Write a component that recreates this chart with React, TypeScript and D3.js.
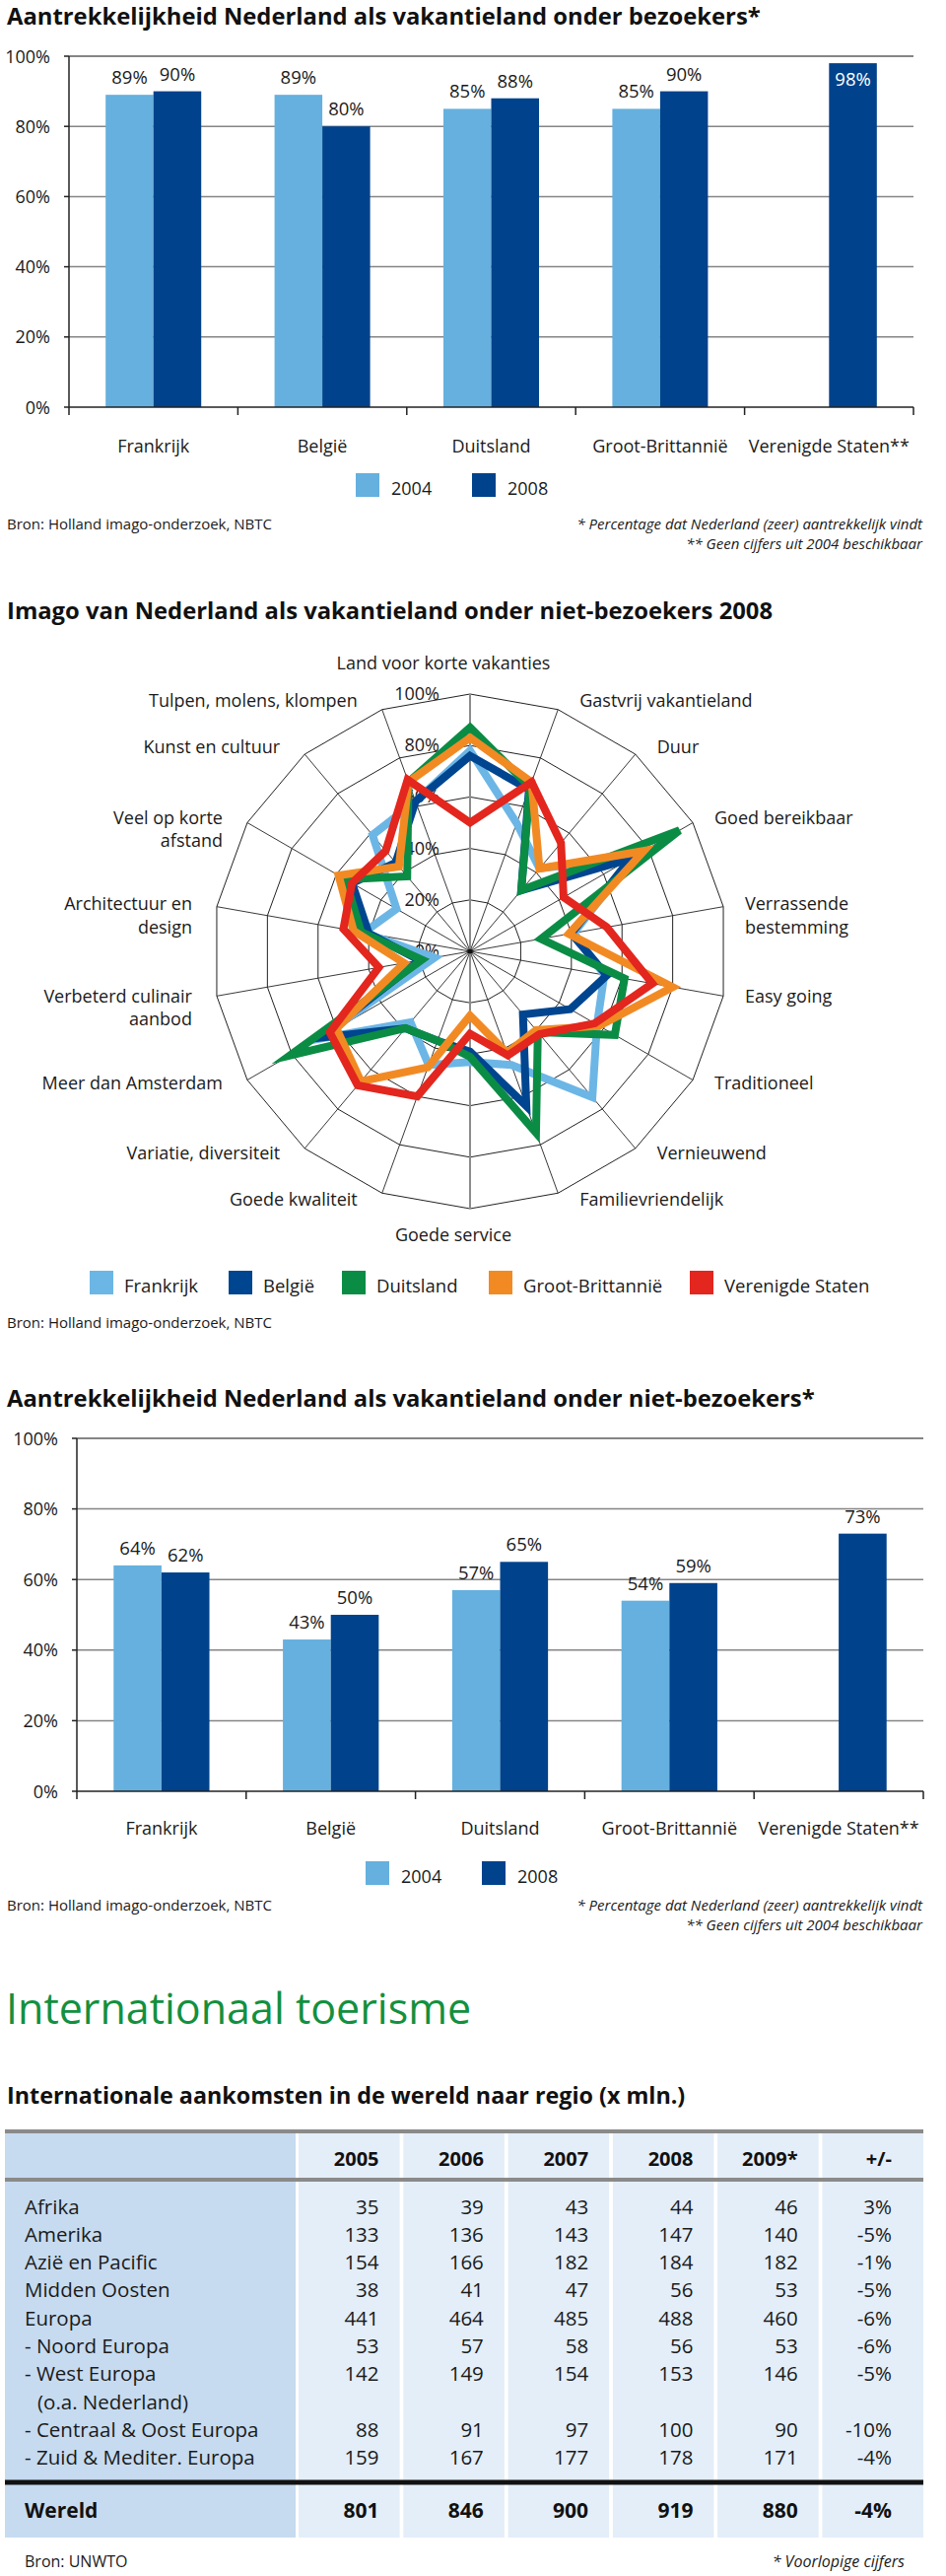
import React from 'react';
import * as d3 from 'd3';

if (typeof document !== 'undefined') {
  document.body.style.margin = '0';
}

const FONT = "'Open Sans', 'Noto Sans', sans-serif";
const TEXT = '#1a1a1a';
const LIGHT = '#65b0de';
const DARK = '#00428b';
const GRID = '#858585';

// ---------- bar charts ----------
const barCategories = ['Frankrijk', 'België', 'Duitsland', 'Groot-Brittannië', 'Verenigde Staten**'];
const barSeries = ['2004', '2008'];
const visitors2004: (number | null)[] = [89, 89, 85, 85, null];
const visitors2008: (number | null)[] = [90, 80, 88, 90, 98];
const nonVisitors2004: (number | null)[] = [64, 43, 57, 54, null];
const nonVisitors2008: (number | null)[] = [62, 50, 65, 59, 73];
const percentTicks = [0, 20, 40, 60, 80, 100];

// ---------- radar ----------
const radarAxes = [
  'Land voor korte vakanties',
  'Gastvrij vakantieland',
  'Duur',
  'Goed bereikbaar',
  'Verrassende\nbestemming',
  'Easy going',
  'Traditioneel',
  'Vernieuwend',
  'Familievriendelijk',
  'Goede service',
  'Goede kwaliteit',
  'Variatie, diversiteit',
  'Meer dan Amsterdam',
  'Verbeterd culinair\naanbod',
  'Architectuur en\ndesign',
  'Veel op korte\nafstand',
  'Kunst en cultuur',
  'Tulpen, molens, klompen',
];
const radarCountries = ['Frankrijk', 'België', 'Duitsland', 'Groot-Brittannië', 'Verenigde Staten'];
const radarColors = ['#6cb6e6', '#00458f', '#0b8c45', '#f28a24', '#e3261e'];
const radarFrankrijk = [78, 53, 42, 73, 41, 53, 57, 74, 47, 43, 47, 36, 68, 14, 42, 33, 59, 62];
const radarBelgie = [76, 67, 31, 72, 40, 54, 45, 32, 64, 39, 37, 39, 67, 20, 40, 53, 45, 62];
const radarDuitsland = [87, 68, 31, 94, 28, 61, 65, 41, 75, 41, 37, 39, 81, 19, 43, 56, 38, 70];
const radarGB = [83, 70, 42, 78, 39, 80, 58, 40, 42, 25, 48, 66, 60, 26, 46, 59, 43, 70];
const radarVS = [50, 70, 55, 42, 54, 72, 56, 42, 43, 32, 60, 68, 63, 36, 50, 53, 51, 71];
const radarSeries = [radarFrankrijk, radarBelgie, radarDuitsland, radarGB, radarVS];
const radarTicks = [0, 20, 40, 60, 80, 100];

// ---------- table ----------
const tableHeaders = ['2005', '2006', '2007', '2008', '2009*', '+/-'];
const tableRegions = [
  'Afrika',
  'Amerika',
  'Azië en Pacific',
  'Midden Oosten',
  'Europa',
  '- Noord Europa',
  '- West Europa',
  '(o.a. Nederland)',
  '- Centraal & Oost Europa',
  '- Zuid & Mediter. Europa',
];
const col2005 = ['35', '133', '154', '38', '441', '53', '142', '', '88', '159'];
const col2006 = ['39', '136', '166', '41', '464', '57', '149', '', '91', '167'];
const col2007 = ['43', '143', '182', '47', '485', '58', '154', '', '97', '177'];
const col2008 = ['44', '147', '184', '56', '488', '56', '153', '', '100', '178'];
const col2009 = ['46', '140', '182', '53', '460', '53', '146', '', '90', '171'];
const colChange = ['3%', '-5%', '-1%', '-5%', '-6%', '-6%', '-5%', '', '-10%', '-4%'];
const tableColumns = [col2005, col2006, col2007, col2008, col2009, colChange];
const worldLabel = 'Wereld';
const worldValues = ['801', '846', '900', '919', '880', '-4%'];

type BarProps = {
  title: string;
  titleY: number;
  v2004: (number | null)[];
  v2008: (number | null)[];
  x0: number;
  x1: number;
  y100: number;
  y0: number;
  xLabelY: number;
  legendX: number;
  legendY: number;
  bronY: number;
};

function BarChart(p: BarProps) {
  const x = d3.scaleBand<string>().domain(barCategories).range([p.x0, p.x1]);
  const y = d3.scaleLinear().domain([0, 100]).range([p.y0, p.y100]);
  const barW = x.bandwidth() * 0.283;
  const inner = d3.scaleBand<string>().domain(barSeries).range([0, barW * 2]);
  const data = [p.v2004, p.v2008];
  const colors = [LIGHT, DARK];
  const boundaries = barCategories.map((c) => x(c) as number).concat([p.x1]);
  return (
    <g>
      <text x={7} y={p.titleY} fontSize={23.8} fontWeight={700} fill="#111">
        {p.title}
      </text>
      {percentTicks.map((t) => (
        <g key={t}>
          {t > 0 && (
            <line x1={p.x0} x2={p.x1} y1={y(t)} y2={y(t)} stroke={GRID} strokeWidth={t === 100 ? 2 : 1.5} />
          )}
          <line x1={p.x0 - 5} x2={p.x0} y1={y(t)} y2={y(t)} stroke="#222" strokeWidth={1.5} />
          <text x={p.x0 - 19} y={y(t) + 6.5} fontSize={18} textAnchor="end" fill={TEXT}>
            {t}%
          </text>
        </g>
      ))}
      {barCategories.map((c, i) =>
        barSeries.map((s, j) => {
          const v = data[j][i];
          if (v == null) return null;
          const bx = (x(c) as number) + x.bandwidth() / 2 - barW + (inner(s) as number);
          const inside = v >= 95;
          return (
            <g key={c + s}>
              <rect x={bx} y={y(v)} width={inner.bandwidth()} height={y(0) - y(v)} fill={colors[j]} />
              <text
                x={bx + inner.bandwidth() / 2}
                y={inside ? y(v) + 23 : y(v) - 11}
                fontSize={18.5}
                textAnchor="middle"
                fill={inside ? '#fff' : TEXT}
              >
                {v}%
              </text>
            </g>
          );
        })
      )}
      <line x1={p.x0} x2={p.x0} y1={y(0)} y2={y(100)} stroke="#222" strokeWidth={1.5} />
      <line x1={p.x0} x2={p.x1} y1={y(0)} y2={y(0)} stroke="#222" strokeWidth={1.5} />
      {boundaries.map((b, i) => (
        <line key={i} x1={b} x2={b} y1={y(0)} y2={y(0) + 8} stroke="#222" strokeWidth={1.5} />
      ))}
      {barCategories.map((c) => (
        <text key={c} x={(x(c) as number) + x.bandwidth() / 2} y={p.xLabelY} fontSize={18} textAnchor="middle" fill={TEXT}>
          {c}
        </text>
      ))}
      {barSeries.map((s, j) => (
        <g key={s} transform={`translate(${p.legendX + j * 118},${p.legendY})`}>
          <rect x={0} y={0} width={24} height={24} fill={colors[j]} />
          <text x={36} y={22} fontSize={18} fill={TEXT}>
            {s}
          </text>
        </g>
      ))}
      <text x={7} y={p.bronY} fontSize={15} fill={TEXT}>
        Bron: Holland imago-onderzoek, NBTC
      </text>
      <text x={936} y={p.bronY} fontSize={15} textAnchor="end" fontStyle="italic" fill={TEXT}>
        * Percentage dat Nederland (zeer) aantrekkelijk vindt
      </text>
      <text x={936} y={p.bronY + 20} fontSize={15} textAnchor="end" fontStyle="italic" fill={TEXT}>
        ** Geen cijfers uit 2004 beschikbaar
      </text>
    </g>
  );
}

function Radar() {
  const cx = 477;
  const cy = 965;
  const R = 261;
  const n = radarAxes.length;
  const r = d3.scaleLinear().domain([0, 100]).range([0, R]);
  const ang = (i: number) => (i * 2 * Math.PI) / n;
  const line = d3
    .lineRadial<number>()
    .angle((_d, i) => ang(i))
    .radius((d) => r(d))
    .curve(d3.curveLinearClosed);
  const ringLine = (t: number) => line(radarAxes.map(() => t)) as string;
  return (
    <g>
      <text x={7} y={628} fontSize={23.8} fontWeight={700} fill="#111">
        Imago van Nederland als vakantieland onder niet-bezoekers 2008
      </text>
      <g transform={`translate(${cx},${cy})`}>
        {radarTicks.filter((t) => t > 0).map((t) => (
          <path key={t} d={ringLine(t)} fill="none" stroke="#222" strokeWidth={1} />
        ))}
        {radarAxes.map((_a, i) => {
          const a = ang(i);
          return (
            <line
              key={i}
              x1={0}
              y1={0}
              x2={R * Math.sin(a)}
              y2={-R * Math.cos(a)}
              stroke="#222"
              strokeWidth={0.9}
            />
          );
        })}
        <line x1={0} x2={0} y1={-R} y2={R} stroke="#8c8c8c" strokeWidth={2} />
        {radarTicks.map((t) => (
          <text key={t} x={-31} y={-r(t) + 6} fontSize={18} textAnchor="end" fill={TEXT}>
            {t}%
          </text>
        ))}
        {radarSeries.map((s, k) => (
          <path
            key={k}
            d={line(s) as string}
            fill="none"
            stroke={radarColors[k]}
            strokeWidth={8}
            strokeLinejoin="miter"
            strokeMiterlimit={6}
          />
        ))}
        <circle cx={0} cy={0} r={2.5} fill="#111" />
      </g>
      {radarAxes.map((label, i) => {
        const a = ang(i);
        const sn = Math.sin(a);
        const cs = Math.cos(a);
        const vx = cx + R * sn;
        const vy = cy - R * cs;
        const lines = label.split('\n');
        let x = vx;
        let anchor: 'start' | 'middle' | 'end' = 'middle';
        let by = vy + 5 - 8 * cs;
        if (Math.abs(sn) < 0.01) {
          x = cs > 0 ? cx - 27 : cx - 17;
          by = cs > 0 ? vy - 25 : vy + 33;
        } else if (sn > 0) {
          x = vx + 22;
          anchor = 'start';
        } else {
          x = vx - 25;
          anchor = 'end';
        }
        return (
          <text key={i} x={x} y={by} fontSize={18} textAnchor={anchor} fill={TEXT}>
            {lines.map((l, j) => (
              <tspan key={j} x={x} dy={j === 0 ? 0 : 23.5}>
                {l}
              </tspan>
            ))}
          </text>
        );
      })}
      {radarCountries.map((c, k) => {
        const lx = [91, 232, 347, 496, 700][k];
        return (
          <g key={c} transform={`translate(${lx},1289)`}>
            <rect x={0} y={0} width={24} height={24} fill={radarColors[k]} />
            <text x={35} y={22} fontSize={18.5} fill={TEXT}>
              {c}
            </text>
          </g>
        );
      })}
      <text x={7} y={1347} fontSize={15} fill={TEXT}>
        Bron: Holland imago-onderzoek, NBTC
      </text>
    </g>
  );
}

function Table() {
  const top = 2162;
  const headerBottom = 2211;
  const rowY0 = 2238;
  const rowH = 28.3;
  const worldLine = 2518;
  const worldY = 2546;
  const bottom = 2574;
  const labelRight = 300;
  const colX = d3.scaleBand<string>().domain(tableHeaders).range([303, 937]).paddingInner(0.035);
  const textRight = (h: string, i: number) => (colX(h) as number) + colX.bandwidth() - (i === 5 ? 32 : 21);
  const rowY = (i: number) => rowY0 + i * rowH;
  return (
    <g>
      <text x={6} y={2053} fontSize={43} fill="#12903f">
        Internationaal toerisme
      </text>
      <text x={7} y={2134} fontSize={23.3} fontWeight={700} fill="#111">
        Internationale aankomsten in de wereld naar regio (x mln.)
      </text>
      <rect x={5} y={top} width={labelRight - 5} height={bottom - top} fill="#c6dbf0" />
      {tableHeaders.map((h) => (
        <rect key={h} x={colX(h)} y={top} width={colX.bandwidth()} height={bottom - top} fill="#e3eef9" />
      ))}
      <line x1={5} x2={937} y1={top} y2={top} stroke="#8a8a8a" strokeWidth={4} />
      <line x1={5} x2={937} y1={headerBottom} y2={headerBottom} stroke="#8a8a8a" strokeWidth={4} />
      <line x1={5} x2={937} y1={worldLine} y2={worldLine} stroke="#111" strokeWidth={5} />
      {tableHeaders.map((h, i) => (
        <text key={h} x={textRight(h, i)} y={2197} fontSize={20} fontWeight={700} textAnchor="end" fill="#111">
          {h}
        </text>
      ))}
      {tableRegions.map((reg, i) => (
        <text key={reg} x={reg.startsWith('(') ? 38 : 25} y={rowY(i) + 7.5} fontSize={20.5} fill={TEXT}>
          {reg}
        </text>
      ))}
      {tableColumns.map((col, ci) =>
        col.map((v, ri) =>
          v ? (
            <text
              key={ci + '-' + ri}
              x={textRight(tableHeaders[ci], ci)}
              y={rowY(ri) + 7.5}
              fontSize={20.5}
              textAnchor="end"
              fill={TEXT}
            >
              {v}
            </text>
          ) : null
        )
      )}
      <text x={25} y={worldY + 7.5} fontSize={21} fontWeight={700} fill="#111">
        {worldLabel}
      </text>
      {worldValues.map((v, ci) => (
        <text
          key={ci}
          x={textRight(tableHeaders[ci], ci)}
          y={worldY + 7.5}
          fontSize={21}
          fontWeight={700}
          textAnchor="end"
          fill="#111"
        >
          {v}
        </text>
      ))}
      <text x={25} y={2604} fontSize={16} fill={TEXT}>
        Bron: UNWTO
      </text>
      <text x={918} y={2604} fontSize={16} fontStyle="italic" textAnchor="end" fill={TEXT}>
        * Voorlopige cijfers
      </text>
    </g>
  );
}

export default function App() {
  return (
    <svg width={960} height={2613} viewBox="0 0 960 2613" style={{ display: 'block', fontFamily: FONT, background: '#fff' }}>
      <rect x={0} y={0} width={960} height={2613} fill="#fff" />
      <BarChart
        title="Aantrekkelijkheid Nederland als vakantieland onder bezoekers*"
        titleY={25}
        v2004={visitors2004}
        v2008={visitors2008}
        x0={70}
        x1={927}
        y100={57}
        y0={413}
        xLabelY={459}
        legendX={361}
        legendY={480}
        bronY={537}
      />
      <Radar />
      <BarChart
        title="Aantrekkelijkheid Nederland als vakantieland onder niet-bezoekers*"
        titleY={1427}
        v2004={nonVisitors2004}
        v2008={nonVisitors2008}
        x0={78}
        x1={937}
        y100={1459}
        y0={1817}
        xLabelY={1861}
        legendX={371}
        legendY={1888}
        bronY={1938}
      />
      <Table />
    </svg>
  );
}
